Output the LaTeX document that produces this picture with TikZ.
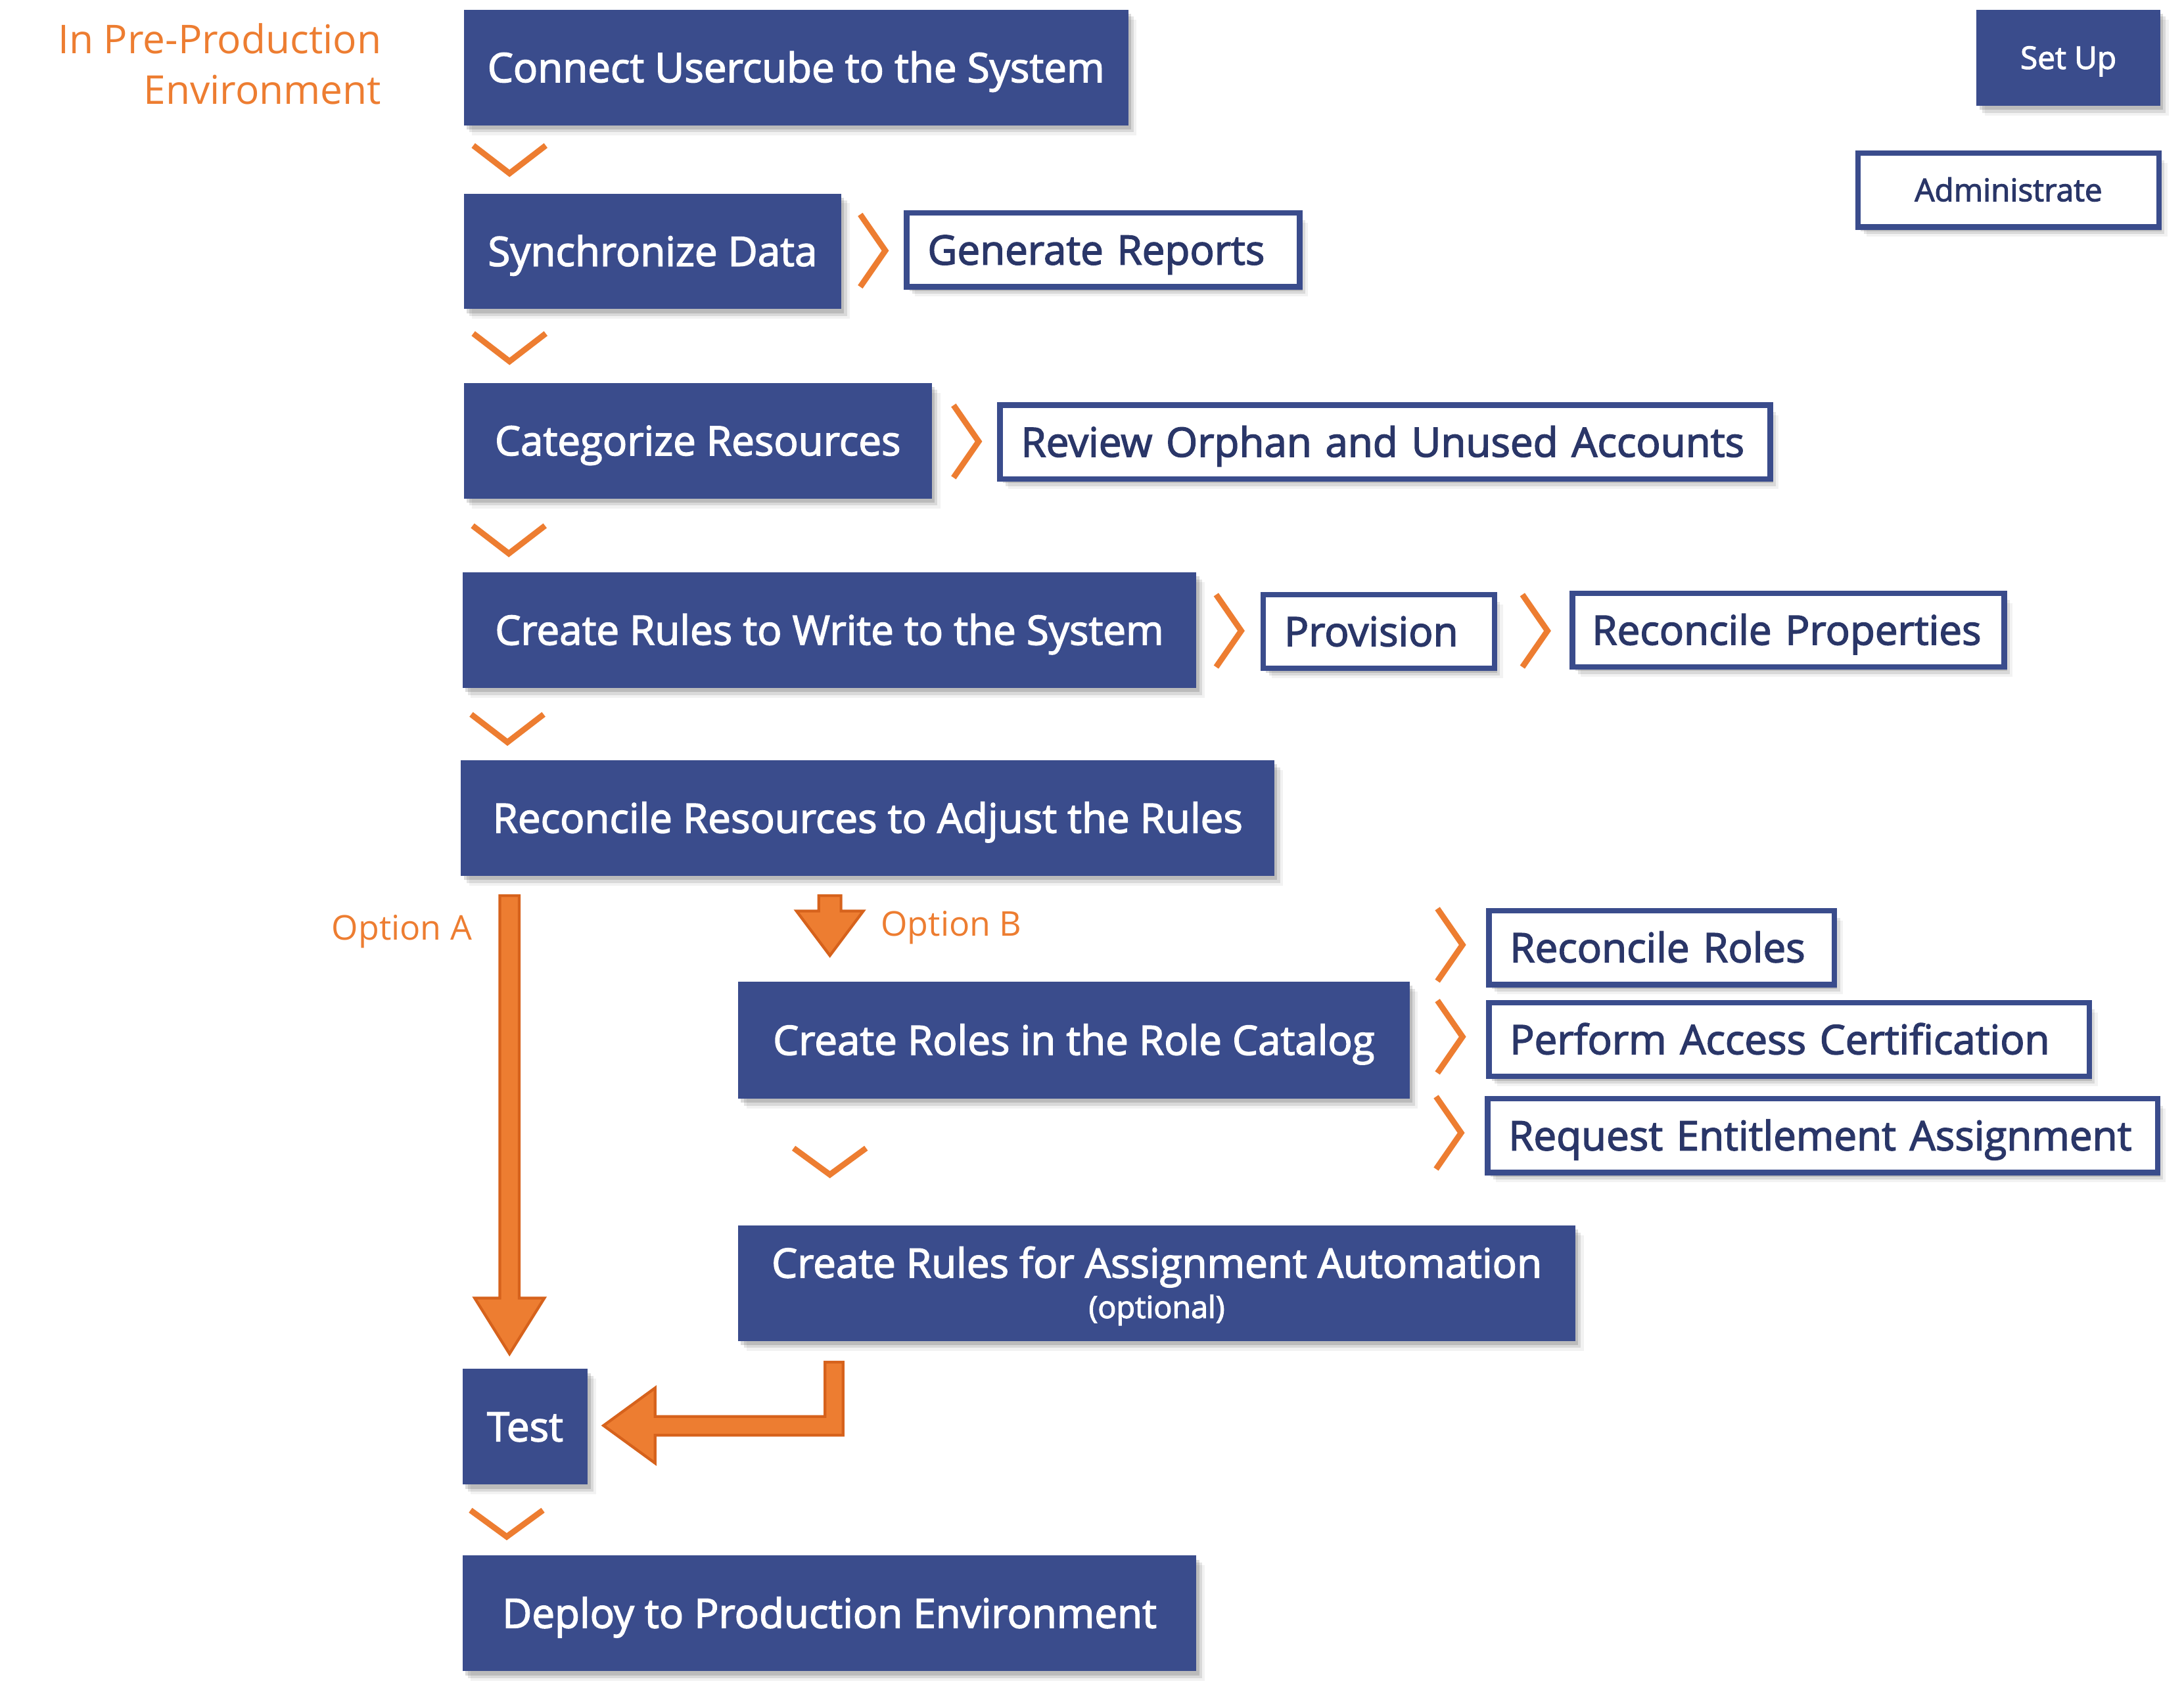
\documentclass[tikz,border=0pt]{standalone}
\usepackage{fontspec}
\setmainfont{Open Sans}
\newfontfamily\boxfont{Open Sans}[FakeBold=2.4]
\usetikzlibrary{shadows, calc}

\definecolor{ucblue}{RGB}{58,76,140}
\definecolor{ucnavy}{RGB}{42,54,104}
\definecolor{ucorange}{RGB}{237,125,49}
\definecolor{ucrust}{RGB}{214,98,28}

\newcommand{\mainsize}{\boxfont\fontsize{29.2}{30}\selectfont}
\newcommand{\tagsize}{\boxfont\fontsize{22.5}{25}\selectfont}
\newcommand{\optsize}{\fontsize{24.5}{27}\selectfont}
\newcommand{\leftsize}{\fontsize{28.5}{36}\selectfont}
\newcommand{\notesize}{\fontsize{22}{24}\selectfont}

\begin{document}
\begin{tikzpicture}[x=1pt, y=-1pt,
		shadowed/.style={drop shadow={shadow xshift=2pt, shadow yshift=-3pt, opacity=0.14, fill=black},
			drop shadow={shadow xshift=4pt, shadow yshift=-5pt, opacity=0.1, fill=black},
			drop shadow={shadow xshift=6pt, shadow yshift=-7pt, opacity=0.05, fill=black}},
		fillbox/.style={rectangle, fill=ucblue, text=white, font=\mainsize, minimum height=83pt, inner sep=0pt, text height=21pt, text depth=0pt, shadowed},
		linebox/.style={rectangle, draw=ucblue, line width=4pt, fill=white, text=ucnavy, font=\mainsize, minimum height=53pt, inner sep=0pt, text height=21pt, text depth=0pt, align=left, shadowed},
		chev/.style={draw=ucorange, line width=4.2pt, line join=miter},
		bigarrow/.style={fill=ucorange, draw=ucrust, line width=2pt, line join=miter},
		note/.style={text=ucorange, inner sep=0pt}]
		\useasboundingbox (0,0) rectangle (1568,1215);
		% main steps
		\node at (571.5,48.5) [fillbox, minimum width=477pt] (connect) {Connect Usercube to the System};
		\node at (468.5,180.5) [fillbox, minimum width=271pt] (sync) {Synchronize Data};
		\node at (501,316.5) [fillbox, minimum width=336pt] (categ) {Categorize Resources};
		\node at (595.5,452.5) [fillbox, minimum width=527pt] (rulesw) {Create Rules to Write to the System};
		\node at (623,587.5) [fillbox, minimum width=584pt] (reconres) {Reconcile Resources to Adjust the Rules};
		\node at (771,747) [fillbox, minimum width=482pt, minimum height=84pt] (roles) {Create Roles in the Role Catalog};
		\node at (830.5,921.5) [fillbox, minimum width=601pt, align=center, text height=50pt] (autom) {Create Rules for Assignment Automation\\[-1pt]{\notesize (optional)}};
		\node at (377,1024.5) [fillbox, minimum width=90pt] (test) {Test};
		\node at (595.5,1158.5) [fillbox, minimum width=527pt] (deploy) {Deploy to Production Environment};
		\node at (1485,41.5) [fillbox, minimum width=132pt, minimum height=69pt, font=\tagsize, text height=16pt] (setup) {Set Up};
		% side tasks
		\node at (792,179.5) [linebox, minimum width=282pt, text width=252pt] (reports) {Generate Reports};
		\node at (994.5,317.5) [linebox, minimum width=553pt, text width=523pt] (orphan) {Review Orphan and Unused Accounts};
		\node at (990,453.5) [linebox, minimum width=166pt, text width=136pt] (prov) {Provision};
		\node at (1284,452.5) [linebox, minimum width=310pt, text width=282pt] (recprop) {Reconcile Properties};
		\node at (1442,136.5) [linebox, minimum width=216pt, align=center, font=\tagsize, text height=16pt] (admin) {Administrate};
		\node at (1193,680.5) [linebox, minimum width=248pt, text width=218pt] (recroles) {Reconcile Roles};
		\node at (1284.5,746.5) [linebox, minimum width=431pt, text width=401pt] (cert) {Perform Access Certification};
		\node at (1308.5,815.5) [linebox, minimum width=481pt, text width=451pt] (request) {Request Entitlement Assignment};
		% labels
		\node at (274,46) [note, anchor=east, align=right, font=\leftsize] (preprod) {In Pre-Production\\Environment};
		\node at (288.5,669) [note, font=\optsize] (labela) {Option A};
		\node at (683,666) [note, font=\optsize] (labelb) {Option B};
		% down chevrons
		\draw[chev] ($(connect.south west)!.5!(sync.north west)+(7,-10)$) -- ++(26,20) -- ++(26,-20);
		\draw[chev] ($(sync.south west)!.5!(categ.north west)+(7,-9)$) -- ++(26,20) -- ++(26,-20);
		\draw[chev] ($(categ.south west)!.5!(rulesw.north west)+(7,-7)$) -- ++(26,20) -- ++(26,-20);
		\draw[chev] ($(rulesw.south west)!.5!(reconres.north west)+(7,-7)$) -- ++(26,20) -- ++(26,-20);
		\draw[chev] ($(roles.south west)!.5!(autom.north west)+(40,-10)$) -- ++(26,19) -- ++(26,-19);
		\draw[chev] ($(test.south west)!.5!(deploy.north west)+(6,-7)$) -- ++(26,19) -- ++(26,-19);
		% side chevrons
		\draw[chev] ($(sync.east)!.5!(reports.west)+(-9,-26)$) -- ++(18,26) -- ++(-18,26);
		\draw[chev] ($(categ.east)!.5!(orphan.west)+(-8,-26)$) -- ++(18,26) -- ++(-18,26);
		\draw[chev] ($(rulesw.east)!.5!(prov.west)+(-9,-26)$) -- ++(18,26) -- ++(-18,26);
		\draw[chev] ($(prov.east)!.5!(recprop.west)+(-8,-26)$) -- ++(18,26) -- ++(-18,26);
		\draw[chev] ($(recroles.west)+(-35,-28)$) -- ++(18,26) -- ++(-18,26);
		\draw[chev] ($(cert.west)+(-35,-28)$) -- ++(18,26) -- ++(-18,26);
		\draw[chev] ($(request.west)+(-35,-28)$) -- ++(18,26) -- ++(-18,26);
		% option arrows
		\coordinate (atop) at ($(reconres.south west)+(35,14)$);
		\coordinate (btop) at ($(reconres.south west)+(265,14)$);
		\coordinate (bend) at ($(autom.south west)+(69,15)$);
		\filldraw[bigarrow] ($(atop)+(-7,0)$) -- ++(14,0) -- ++(0,289) -- ++(18,0) -- ++(-25,40) -- ++(-25,-40) -- ++(18,0) -- cycle;
		\filldraw[bigarrow] ($(btop)+(-8,0)$) -- ++(16,0) -- ++(0,11) -- ++(16,0) -- ++(-24,32) -- ++(-24,-32) -- ++(16,0) -- cycle;
		\filldraw[bigarrow] ($(bend)+(-6.5,0)$) -- ++(13,0) -- ++(0,52.5) -- ++(-135,0) -- ++(0,20) -- ++(-37,-27) -- ++(37,-27) -- ++(0,20.5) -- ++(122,0) -- cycle;
	\end{tikzpicture}
\end{document}
